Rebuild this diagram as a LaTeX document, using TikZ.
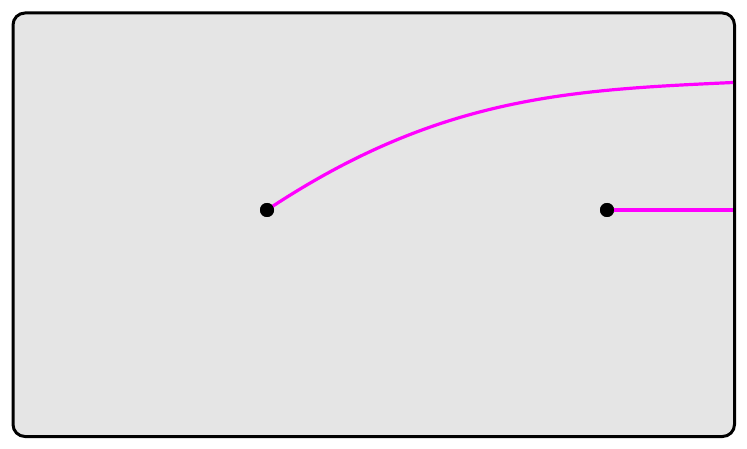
\documentclass[tikz,border=0pt]{standalone}
\begin{document}
\begin{tikzpicture}[x=1pt,y=-1pt,
  frame/.style={draw=black,line width=3pt,fill=black!10,rounded corners=12pt},
  dot/.style={circle,fill=black,inner sep=0pt,minimum size=14pt},
  wire/.style={draw={rgb,255:red,255;green,0;blue,255},line width=3.2pt}]
\useasboundingbox (0,0) rectangle (747,449);
\draw[frame] (13,13) rectangle (734.5,436.5);
\node[dot] (a) at (267,210) {};
\node[dot] (b) at (607,210) {};
\coordinate (ea) at (733,82.5);
\coordinate (eb) at (733,210);
\draw[wire] (a.center) ++(3,-2) .. controls (440,96) and (570,90) .. (ea);
\draw[wire] (b.center) -- (eb);
\node[dot] at (a) {};
\node[dot] at (b) {};
\end{tikzpicture}
\end{document}
